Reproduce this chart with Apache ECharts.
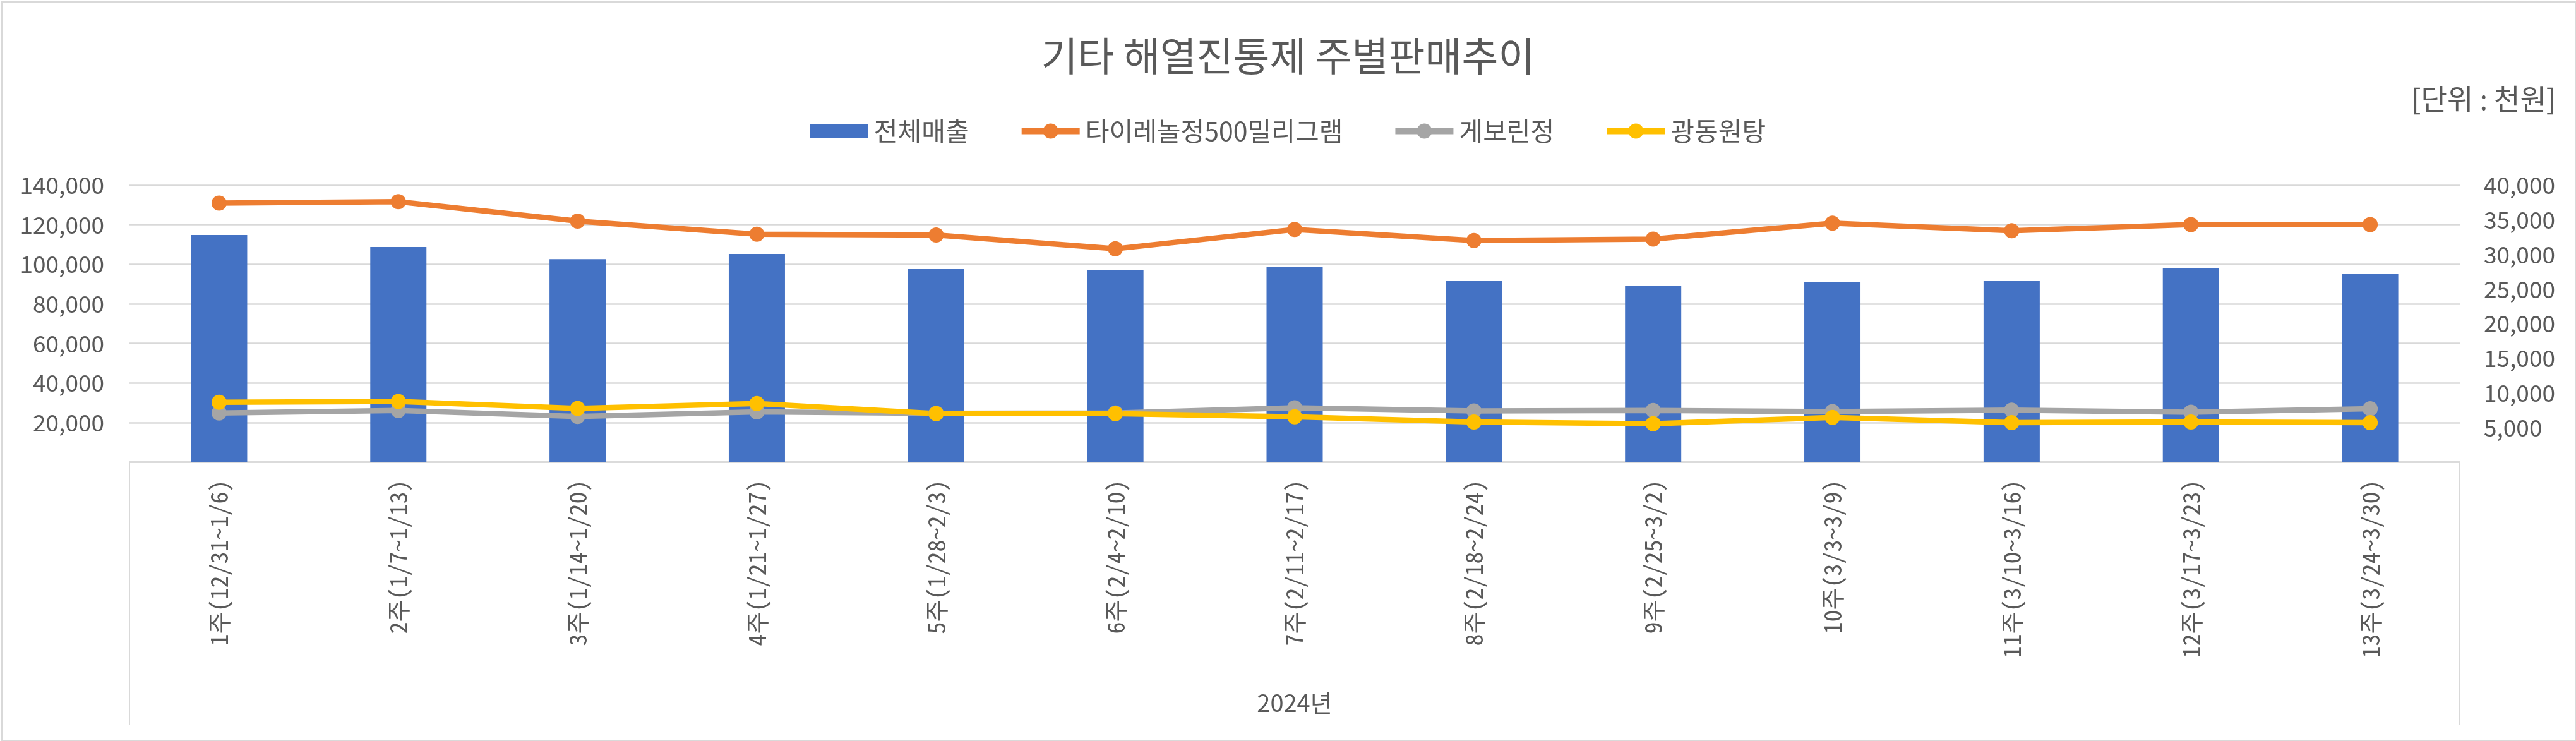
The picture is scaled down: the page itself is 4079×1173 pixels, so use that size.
<!DOCTYPE html>
<html>
<head>
<meta charset="utf-8">
<script src="https://cdn.jsdelivr.net/npm/echarts@6/dist/echarts.min.js"></script>
<style>
  html, body { margin: 0; padding: 0; background: #fff; }
  #chart { width: 4079px; height: 1173px; }
</style>
</head>
<body>
<div id="chart"></div>
<script>
// ---- data ----
const titleText = '기타 해열진통제 주별판매추이';
const unitText = '[단위 : 천원]';
const yearLabel = ['2024년'];
const weeks = ['1주(12/31~1/6)','2주(1/7~1/13)','3주(1/14~1/20)','4주(1/21~1/27)','5주(1/28~2/3)','6주(2/4~2/10)','7주(2/11~2/17)','8주(2/18~2/24)','9주(2/25~3/2)','10주(3/3~3/9)','11주(3/10~3/16)','12주(3/17~3/23)','13주(3/24~3/30)'];
const seriesNames = ['전체매출', '타이레놀정500밀리그램', '게보린정', '광동원탕'];
const totalSales = [114800, 108700, 102600, 105200, 97500, 97200, 98800, 91500, 88900, 90800, 91500, 98200, 95300];
const tylenol   = [37400, 37600, 34800, 32900, 32800, 30800, 33600, 32000, 32200, 34500, 33400, 34300, 34300];
const geborin   = [7100, 7450, 6600, 7250, 7050, 7100, 7850, 7400, 7450, 7300, 7500, 7200, 7700];
const gwangdong = [8650, 8750, 7750, 8450, 7000, 7000, 6550, 5800, 5550, 6450, 5700, 5800, 5700];
const leftTicks  = [0, 20000, 40000, 60000, 80000, 100000, 120000, 140000];
const rightTicks = [0, 5000, 10000, 15000, 20000, 25000, 30000, 35000, 40000];

// ---- style ----
const F = "'Noto Sans CJK KR', 'Noto Sans', sans-serif";
const FM = "'Noto Sans Mono CJK KR', 'Noto Sans CJK KR', monospace";
const txt = '#595959';
const gridC = '#d9d9d9';
const colors = ['#4472C4', '#ED7D31', '#A5A5A5', '#FFC000'];
const fmt = v => v.toLocaleString('en-US');

const chart = echarts.init(document.getElementById('chart'), null, { renderer: 'canvas' });
chart.setOption({
  animation: false,
  backgroundColor: '#fff',
  color: colors,
  title: {
    text: titleText,
    left: 'center',
    top: 52,
    textStyle: { fontFamily: F, fontSize: 63, fontWeight: 'normal', color: txt }
  },
  graphic: [
    {
      type: 'text', right: 32, top: 134,
      style: { text: unitText, font: "45px 'Noto Sans CJK KR'", fill: txt }
    },
    {
      type: 'rect', left: 0, top: 0, silent: true,
      shape: { x: 1.5, y: 1.5, width: 4076, height: 1170 },
      style: { fill: 'none', stroke: gridC, lineWidth: 3 }
    }
  ],
  legend: {
    top: 182,
    left: 'center',
    itemGap: 78,
    itemWidth: 92,
    itemHeight: 30,
    symbolKeepAspect: true,
    lineStyle: { width: 10 },
    textStyle: { fontFamily: F, fontSize: 41, color: txt, padding: [0, 0, 0, 4] },
    data: [
      { name: seriesNames[0], icon: 'path://M0,0H88V22H0Z' },
      seriesNames[1], seriesNames[2], seriesNames[3]
    ]
  },
  grid: { left: 205, right: 184, top: 293, bottom: 441.5, containLabel: false },
  xAxis: [
    {
      type: 'category',
      data: weeks,
      boundaryGap: true,
      axisLine: { show: true, lineStyle: { color: gridC, width: 2.5 } },
      axisTick: { show: false },
      axisLabel: {
        interval: 0, rotate: 90, margin: 28,
        fontFamily: FM, fontSize: 38, color: txt
      }
    },
    {
      type: 'category',
      data: yearLabel,
      position: 'bottom',
      boundaryGap: true,
      axisLine: { show: false },
      axisTick: { show: true, length: 416, lineStyle: { color: gridC, width: 2 } },
      axisLabel: { margin: 362, fontFamily: F, fontSize: 38, color: txt },
      splitLine: { show: false }
    }
  ],
  yAxis: [
    {
      type: 'value',
      min: leftTicks[0], max: leftTicks[leftTicks.length - 1],
      interval: leftTicks[1] - leftTicks[0],
      axisLine: { show: false }, axisTick: { show: false },
      splitLine: { show: true, lineStyle: { color: gridC, width: 2.5 } },
      axisLabel: {
        showMinLabel: false, margin: 40,
        fontFamily: F, fontSize: 37, color: txt, formatter: fmt
      }
    },
    {
      type: 'value',
      min: rightTicks[0], max: rightTicks[rightTicks.length - 1],
      interval: rightTicks[1] - rightTicks[0],
      position: 'right',
      axisLine: { show: false }, axisTick: { show: false },
      splitLine: { show: false },
      axisLabel: {
        showMinLabel: false, margin: 38,
        fontFamily: F, fontSize: 37, color: txt, formatter: fmt
      }
    }
  ],
  series: [
    {
      name: seriesNames[0], type: 'bar', data: totalSales,
      xAxisIndex: 0, yAxisIndex: 0, barWidth: 89,
      itemStyle: { color: colors[0] }
    },
    {
      name: seriesNames[1], type: 'line', data: tylenol,
      xAxisIndex: 0, yAxisIndex: 1, symbol: 'circle', symbolSize: 24,
      lineStyle: { width: 8.5, color: colors[1] }, itemStyle: { color: colors[1] }
    },
    {
      name: seriesNames[2], type: 'line', data: geborin,
      xAxisIndex: 0, yAxisIndex: 1, symbol: 'circle', symbolSize: 24,
      lineStyle: { width: 8.5, color: colors[2] }, itemStyle: { color: colors[2] }
    },
    {
      name: seriesNames[3], type: 'line', data: gwangdong,
      xAxisIndex: 0, yAxisIndex: 1, symbol: 'circle', symbolSize: 24,
      lineStyle: { width: 8.5, color: colors[3] }, itemStyle: { color: colors[3] }
    }
  ]
});
</script>
</body>
</html>
